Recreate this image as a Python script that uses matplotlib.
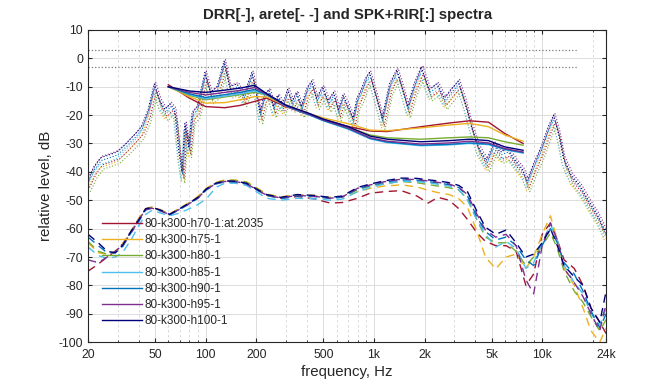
import matplotlib
matplotlib.use("Agg")
import matplotlib.pyplot as plt
from matplotlib.ticker import FixedLocator, FixedFormatter, NullFormatter
import numpy as np

plt.rcParams.update({"font.family": ["Liberation Sans", "DejaVu Sans"],
                     "font.size": 8.7, "text.color": "#262626",
                     "axes.labelcolor": "#262626", "xtick.color": "#262626",
                     "ytick.color": "#262626", "axes.unicode_minus": False})

NAMES = ["80-k300-h70-1:at.2035", "80-k300-h75-1", "80-k300-h80-1",
         "80-k300-h85-1", "80-k300-h90-1", "80-k300-h95-1", "80-k300-h100-1"]
COLORS = ["#a2142f", "#edb120", "#77ac30", "#4dbeee", "#0072bd", "#7e2f8e",
          "#00007a"]

# DRR spectra (solid)
DRR_F = [60, 80, 100, 130, 160, 195, 230, 300, 400, 500, 700, 950, 1200,
         1900, 2800, 3700, 4800, 6000, 7700]
DRR_H70 = [-9.3, -14, -17, -17.4, -16.6, -15.2, -14, -17, -19.7, -21.5, -24,
           -25.6, -25.8, -24.1, -22.8, -22, -22.5, -26.5, -30]
DRR_H75 = [-10, -13.5, -15.8, -15.6, -14.6, -13.5, -13.6, -16.6, -19.2, -21,
           -23, -25.3, -25.5, -24.5, -23.5, -22.9, -24.1, -27, -29.2]
DRR_H80 = [-10, -13, -14.6, -13.6, -12.8, -12, -12.9, -16.6, -19.3, -21.6,
           -24.3, -27, -28, -28.5, -28, -27.7, -28, -29.4, -30.6]
DRR_H85 = [-10, -12.7, -14.3, -13.3, -12.5, -11.5, -12.8, -16.8, -19.6, -22,
           -24.9, -28.4, -29.7, -30.8, -30.5, -30, -30.4, -32.2, -33.4]
DRR_H90 = [-10, -12.5, -13.8, -12.8, -12, -11, -12.7, -16.7, -19.5, -21.9,
           -24.7, -28.2, -29.5, -30.6, -30.3, -29.8, -30.2, -32, -33.2]
DRR_H95 = [-10, -12, -12.9, -12, -11.3, -10.3, -12.6, -16.6, -19.3, -21.7,
           -24.5, -28, -29.2, -30.2, -29.8, -29.2, -29.8, -31.8, -33]
DRR_H100 = [-10, -11.5, -12, -11.2, -10.5, -9.5, -12.4, -16.5, -19.1, -21.4,
            -24, -27.4, -28.5, -29.4, -29, -28.5, -29, -31.2, -32.4]

# arete spectra (dashed)
ARETE_F = [20, 23, 26, 29, 32, 36, 40, 44, 48, 54, 61, 70, 80, 90, 101, 115,
           130, 150, 175, 200, 230, 280, 350, 440, 550, 650, 800, 950, 1150,
           1450, 1800, 2100, 2400, 2800, 3200, 3600, 4100, 4600, 5300, 6100,
           7000, 8000, 8900, 10000, 11200, 12300, 13500, 15500, 17500, 19500,
           22000, 24000]
ARETE_H70 = [-75, -72.5, -70, -68, -65.5, -61, -56.5, -53, -52.5, -53.5, -55,
             -53, -51, -48.8, -46, -44, -43.2, -43.3, -44, -46, -48.2, -49.3,
             -48.7, -49.5, -51, -50.8, -49.3, -47.5, -47, -46.6, -48.5, -51,
             -49, -50, -53, -56.8, -61.5, -64.5, -66, -66, -68, -80, -76, -62,
             -58, -64, -71, -74, -80, -88, -93, -97]
ARETE_H75 = [-65, -68.5, -69, -68, -65.5, -61, -56.5, -53, -52.3, -53.3,
             -54.8, -52.8, -50.8, -48.6, -45.8, -43.7, -42.8, -42.9, -43.5,
             -45.5, -47.8, -48.8, -48, -48.3, -49, -48.8, -47, -45.8, -45,
             -44.6, -45.3, -46.5, -47.3, -48, -49.5, -52.5, -61, -70, -74.2,
             -70, -69, -74, -70, -62, -55.5, -64, -74, -80, -88, -96, -100, -95]
ARETE_H80 = [-64.5, -68, -69, -68.5, -66, -61, -57, -53.2, -52.6, -53.6, -55,
             -53, -51, -49, -46, -44, -43, -43, -43.7, -45.8, -48, -49, -48.2,
             -48.5, -49.2, -48.8, -46.3, -45, -44.2, -43.4, -43.8, -44.5, -45,
             -45.6, -46.5, -49.5, -57, -63, -65, -65, -68, -73, -70, -66, -61.5,
             -67, -75, -82, -86, -91, -96, -92]
ARETE_H85 = [-66.5, -69.5, -70.5, -70, -68.5, -64, -59, -55, -53.5, -54.5,
             -55.5, -54.5, -53, -51.5, -49.5, -45.5, -44, -44, -44.8, -47,
             -49.3, -50, -49.3, -49.5, -50, -49.6, -47, -45.5, -44.3, -43.3,
             -43.4, -43.8, -44.4, -45, -46.3, -50, -57, -62, -66.5, -64.5, -67,
             -74, -72, -65, -58.5, -64, -73, -79, -83, -90, -94, -88]
ARETE_H90 = [-63, -66, -68.5, -68.5, -66.5, -61.5, -57.5, -53.5, -52.7, -53.6,
             -55.2, -53.3, -51.3, -49.3, -46.4, -44.3, -43.5, -43.6, -44.3,
             -46.3, -48.3, -49.4, -48.5, -48.7, -49.4, -48.9, -46, -44.8, -43.7,
             -42.8, -42.9, -43.4, -43.9, -44.5, -45.5, -48.5, -56, -61, -64,
             -63, -66, -71, -73, -66, -60, -65, -72, -76, -82, -89, -95, -90]
ARETE_H95 = [-71, -72, -70, -68, -66, -61.5, -57, -53.3, -52.8, -53.8, -55,
             -53.2, -51.2, -49.2, -46.2, -44.2, -43.4, -43.4, -44.2, -46.2,
             -48.2, -49.2, -48.3, -48.6, -49.3, -48.8, -45.8, -44.6, -43.5,
             -42.6, -42.7, -43.2, -43.7, -44.3, -45.5, -48, -55, -60.5, -63,
             -62, -66, -78, -83, -66, -58, -64, -74, -79, -84, -90, -96, -86]
ARETE_H100 = [-62, -65, -68, -68.5, -66, -61, -57, -53, -52.5, -53.5, -55,
              -53, -51, -49, -46, -44, -43.2, -43.3, -44, -46, -48, -49, -48,
              -48.3, -49, -48.5, -45.5, -44.3, -43.2, -42.2, -42.3, -42.8,
              -43.2, -43.8, -44.8, -47, -54, -59.5, -62, -60.5, -65, -70, -69,
              -65, -60, -66, -73, -77, -80, -88, -93, -82]

# SPK+RIR spectrum (dotted), one shape
SPK_F = [20, 22, 24, 27, 30, 34, 38, 42, 46, 50, 54, 58, 62, 66, 70, 73, 76,
         80, 84, 90, 100, 108, 118, 130, 140, 155, 170, 190, 200, 212, 225,
         240, 255, 270, 290, 310, 330, 350, 375, 400, 430, 460, 500, 540, 580,
         620, 660, 700, 760, 800, 850, 900, 950, 1050, 1130, 1250, 1380, 1500,
         1600, 1750, 1930, 2150, 2400, 2650, 2900, 3200, 3500, 3800, 4200,
         4700, 5200, 5700, 6300, 7000, 7700, 8200, 9000, 10000, 11000, 11800,
         12600, 13500, 15000, 17000, 19000, 21500, 24000]
SPK_LEVEL = [-44, -39, -36, -35, -34, -31, -28, -25, -19, -10, -16, -19, -17,
             -19, -34, -41, -24, -32, -20, -18, -6, -13, -11, -2, -11, -10,
             -14, -6, -12, -20, -14, -12, -18, -14, -17, -12, -16, -13, -18,
             -12, -9, -15, -11, -16, -13, -19, -14, -17, -22, -15, -12, -8, -6,
             -15, -22, -10, -5, -12, -18, -10, -4, -12, -10, -15, -12, -9, -16,
             -24, -32, -37, -31, -34, -33, -37, -40, -44, -38, -32, -25, -21,
             -27, -36, -42, -46, -51, -56, -62]
SPK_OFFSET = [-1.5, -2.5, -3.0, -1.5, 0.0, 1.5, 1.0]
SPK_FSCALE = [1.02, 0.985, 1.03, 0.975, 1.0, 1.01, 0.99]

REF_F = [20, 16000]
REF_LEVELS = [3, -3]

DRR = [DRR_H70, DRR_H75, DRR_H80, DRR_H85, DRR_H90, DRR_H95, DRR_H100]
ARETE = [ARETE_H70, ARETE_H75, ARETE_H80, ARETE_H85, ARETE_H90, ARETE_H95,
         ARETE_H100]

fig = plt.figure(figsize=(6.72, 3.84), dpi=100)
ax = fig.add_axes([0.131, 0.109, 0.771, 0.813])

for lev in REF_LEVELS:
    ax.plot(REF_F, [lev, lev], ":", color="#7a7a7a", lw=0.9)

for i, c in enumerate(COLORS):
    f = np.array(SPK_F) * SPK_FSCALE[i]
    ax.plot(f, np.array(SPK_LEVEL) + SPK_OFFSET[i], ":", color=c, lw=0.8)

lines = []
for i, c in enumerate(COLORS):
    ln, = ax.plot(DRR_F, DRR[i], "-", color=c, lw=1.0, label=NAMES[i])
    lines.append(ln)
    ax.plot(ARETE_F, ARETE[i], "--", color=c, lw=1.0, dashes=(6, 4))

ax.set_xscale("log")
ax.set_xlim(20, 24000)
ax.set_ylim(-100, 10)
ax.set_yticks(np.arange(-100, 11, 10))
ax.xaxis.set_major_locator(FixedLocator([20, 50, 100, 200, 500, 1000, 2000,
                                         5000, 10000, 24000]))
ax.xaxis.set_major_formatter(FixedFormatter(["20", "50", "100", "200", "500",
                                             "1k", "2k", "5k", "10k", "24k"]))
ax.xaxis.set_minor_locator(FixedLocator([30, 40, 60, 70, 80, 90, 300, 400,
                                         600, 700, 800, 900, 3000, 4000, 6000,
                                         7000, 8000, 9000, 20000]))
ax.xaxis.set_minor_formatter(NullFormatter())
ax.grid(True, which="major", color="#dcdcdc", lw=0.7)
ax.grid(True, which="minor", axis="x", color="#d4d4d4", lw=0.6,
        linestyle=(0, (3, 3)))
ax.set_axisbelow(True)
ax.tick_params(which="both", direction="in", top=True, right=True, length=3)
ax.tick_params(which="minor", length=1.5)
ax.tick_params(axis="x", pad=5)
for s in ax.spines.values():
    s.set_color("#262626")
    s.set_linewidth(0.8)

ax.set_title("DRR[-], arete[- -] and SPK+RIR[:] spectra", fontsize=10.8,
             fontweight="bold", pad=8)
ax.set_xlabel("frequency, Hz", fontsize=10.8, labelpad=3)
ax.set_ylabel("relative level, dB", fontsize=10.8, labelpad=4)

ax.legend(handles=lines, loc="upper left", bbox_to_anchor=(0.026, 0.398),
          frameon=False, fontsize=8.5, handlelength=3.4, handletextpad=0.2,
          labelspacing=0.36, borderpad=0, borderaxespad=0)

fig.savefig("out.png", dpi=100)
